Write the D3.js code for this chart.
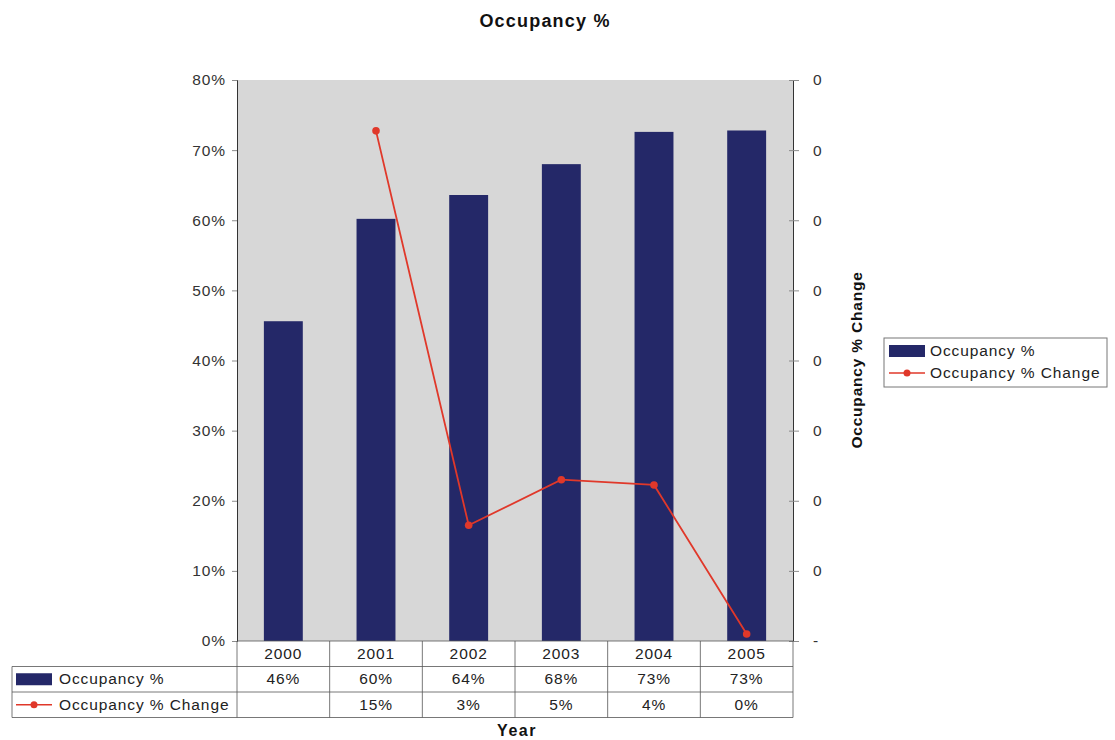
<!DOCTYPE html>
<html>
<head>
<meta charset="utf-8">
<script src="https://cdn.jsdelivr.net/npm/d3@7"></script>
<style>
  html, body { margin: 0; padding: 0; background: #fff; }
  svg { display: block; font-family: "Liberation Sans", Arial, sans-serif; }
</style>
</head>
<body>
<svg id="chart" width="1115" height="740"></svg>
<script>
// Yearly occupancy and its year-over-year change
const years = ["2000", "2001", "2002", "2003", "2004", "2005"];
const occupancy = [0.456, 0.602, 0.636, 0.680, 0.726, 0.728];
const occupancyChange = [null, 0.1455, 0.033, 0.046, 0.0445, 0.002];
const leftTicks = [0, 0.1, 0.2, 0.3, 0.4, 0.5, 0.6, 0.7, 0.8];
const rightTicks = [0, 0.02, 0.04, 0.06, 0.08, 0.10, 0.12, 0.14, 0.16];
const seriesNames = ["Occupancy %", "Occupancy % Change"];

const barColor = "#242868";
const lineColor = "#e0382a";
const plotFill = "#d7d7d7";
const gridColor = "#8c8c8c";
const textSize = 15.5;
const textSpacing = 0.9;

const svg = d3.select("#chart");
const plot = { left: 237, right: 793, top: 80, bottom: 641 };

const x = d3.scaleBand().domain(years).range([plot.left, plot.right]).paddingInner(0.58).paddingOuter(0.29);
const xCell = d3.scaleBand().domain(years).range([plot.left, plot.right]);
const y = d3.scaleLinear().domain([0, 0.8]).range([plot.bottom, plot.top]);
const y2 = d3.scaleLinear().domain([0, 0.16]).range([plot.bottom, plot.top]);

// Title
svg.append("text")
  .attr("x", 545).attr("y", 27)
  .attr("text-anchor", "middle")
  .attr("font-size", 18).attr("font-weight", "bold").attr("fill", "#111")
  .attr("letter-spacing", 1.2)
  .text("Occupancy %");

// Plot background
svg.append("rect")
  .attr("x", plot.left).attr("y", plot.top)
  .attr("width", plot.right - plot.left).attr("height", plot.bottom - plot.top)
  .attr("fill", plotFill);

// Bars
svg.append("g").selectAll("rect")
  .data(years)
  .join("rect")
  .attr("x", d => x(d))
  .attr("width", x.bandwidth())
  .attr("y", (d, i) => y(occupancy[i]))
  .attr("height", (d, i) => y(0) - y(occupancy[i]))
  .attr("fill", barColor);

// Change line on the secondary axis
const linePts = years.map((d, i) => ({ year: d, v: occupancyChange[i] })).filter(p => p.v !== null);
svg.append("path")
  .datum(linePts)
  .attr("fill", "none")
  .attr("stroke", lineColor)
  .attr("stroke-width", 1.8)
  .attr("d", d3.line().x(p => xCell(p.year) + xCell.bandwidth() / 2).y(p => y2(p.v)));
svg.append("g").selectAll("circle")
  .data(linePts)
  .join("circle")
  .attr("cx", p => xCell(p.year) + xCell.bandwidth() / 2)
  .attr("cy", p => y2(p.v))
  .attr("r", 3.8)
  .attr("fill", lineColor);

// Left axis
const leftAxis = svg.append("g")
  .attr("transform", `translate(${plot.left},0)`)
  .call(d3.axisLeft(y).tickValues(leftTicks).tickFormat(d3.format(".0%")).tickSize(5).tickPadding(6));
leftAxis.select(".domain").attr("stroke", "#333");
leftAxis.selectAll(".tick line").attr("stroke", gridColor);
leftAxis.selectAll("text").attr("font-size", textSize).attr("fill", "#333")
  .attr("letter-spacing", textSpacing)
  .attr("font-family", "'Liberation Sans', Arial, sans-serif");

// Right axis: accounting-style labels, zero shown as a dash
const rightAxis = svg.append("g")
  .attr("transform", `translate(${plot.right},0)`)
  .call(d3.axisRight(y2).tickValues(rightTicks)
    .tickFormat(v => v === 0 ? "-" : d3.format(".0f")(v))
    .tickSize(6).tickPadding(14));
rightAxis.select(".domain").attr("stroke", "#333");
rightAxis.selectAll(".tick line").attr("stroke", gridColor).attr("x1", -4);
rightAxis.selectAll("text").attr("font-size", textSize).attr("fill", "#333")
  .attr("font-family", "'Liberation Sans', Arial, sans-serif");

svg.append("text")
  .attr("transform", "translate(862,360) rotate(-90)")
  .attr("text-anchor", "middle")
  .attr("font-size", textSize).attr("font-weight", "bold").attr("fill", "#111")
  .attr("letter-spacing", 0.8)
  .text("Occupancy % Change");

// Data table below the plot
const rowH = 25.5;
const tableTop = plot.bottom;
const keyLeft = 12;
const table = svg.append("g").attr("font-size", textSize).attr("fill", "#222")
  .attr("letter-spacing", textSpacing);
const borderColor = "#555";

// horizontal rules: header row spans the category columns only
[0, 1, 2, 3].forEach(r => {
  table.append("line")
    .attr("x1", r === 0 ? plot.left : keyLeft)
    .attr("x2", plot.right)
    .attr("y1", tableTop + r * rowH).attr("y2", tableTop + r * rowH)
    .attr("stroke", borderColor).attr("stroke-width", 0.8);
});

// vertical rules
d3.range(years.length + 1).forEach(i => {
  const xx = plot.left + i * xCell.bandwidth();
  table.append("line")
    .attr("x1", xx).attr("x2", xx)
    .attr("y1", tableTop).attr("y2", tableTop + 3 * rowH)
    .attr("stroke", borderColor).attr("stroke-width", 0.8);
});
table.append("line")
  .attr("x1", keyLeft).attr("x2", keyLeft)
  .attr("y1", tableTop + rowH).attr("y2", tableTop + 3 * rowH)
  .attr("stroke", borderColor).attr("stroke-width", 0.8);

// year header
table.selectAll("text.year")
  .data(years).join("text")
  .attr("class", "year")
  .attr("x", d => xCell(d) + xCell.bandwidth() / 2)
  .attr("y", tableTop + rowH / 2 + 5)
  .attr("text-anchor", "middle")
  .text(d => d);

const pct = d3.format(".0%");
table.selectAll("text.occ")
  .data(years).join("text")
  .attr("class", "occ")
  .attr("x", d => xCell(d) + xCell.bandwidth() / 2)
  .attr("y", tableTop + rowH * 1.5 + 5)
  .attr("text-anchor", "middle")
  .text((d, i) => pct(occupancy[i]));

table.selectAll("text.chg")
  .data(years).join("text")
  .attr("class", "chg")
  .attr("x", d => xCell(d) + xCell.bandwidth() / 2)
  .attr("y", tableTop + rowH * 2.5 + 5)
  .attr("text-anchor", "middle")
  .text((d, i) => occupancyChange[i] === null ? "" : pct(occupancyChange[i]));

// legend keys inside the table
function barKey(g, kx, ky) {
  g.append("rect").attr("x", kx).attr("y", ky - 6).attr("width", 36).attr("height", 12).attr("fill", barColor);
}
function lineKey(g, kx, ky) {
  g.append("line").attr("x1", kx).attr("x2", kx + 36).attr("y1", ky).attr("y2", ky)
    .attr("stroke", lineColor).attr("stroke-width", 1.6);
  g.append("circle").attr("cx", kx + 18).attr("cy", ky).attr("r", 3.5).attr("fill", lineColor);
}
barKey(table, 16, tableTop + rowH * 1.5);
lineKey(table, 16, tableTop + rowH * 2.5);
table.append("text").attr("x", 59).attr("y", tableTop + rowH * 1.5 + 5).text(seriesNames[0]);
table.append("text").attr("x", 59).attr("y", tableTop + rowH * 2.5 + 5).text(seriesNames[1]);

// x axis title
svg.append("text")
  .attr("x", 517).attr("y", 736)
  .attr("text-anchor", "middle")
  .attr("font-size", 16).attr("font-weight", "bold").attr("fill", "#111")
  .attr("letter-spacing", 1.5)
  .text("Year");

// Legend
const legend = svg.append("g").attr("font-size", textSize).attr("fill", "#222")
  .attr("letter-spacing", textSpacing);
legend.append("rect")
  .attr("x", 884).attr("y", 338).attr("width", 223).attr("height", 49)
  .attr("fill", "#fff").attr("stroke", "#777").attr("stroke-width", 1);
barKey(legend, 889, 351);
lineKey(legend, 889, 373);
legend.append("text").attr("x", 930).attr("y", 356).text(seriesNames[0]);
legend.append("text").attr("x", 930).attr("y", 378).text(seriesNames[1]);
</script>
</body>
</html>
